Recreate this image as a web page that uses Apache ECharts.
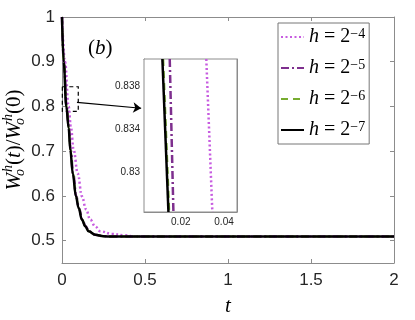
<!DOCTYPE html>
<html>
<head>
<meta charset="utf-8">
<script src="https://cdn.jsdelivr.net/npm/echarts@6/dist/echarts.min.js"></script>
<style>
html, body { margin: 0; padding: 0; background: #fff; }
#main { width: 415px; height: 320px; }
</style>
</head>
<body>
<div id="main"></div>
<script>
// series names (h = 2^-4 ... 2^-7)
var names = ['h = 2^−4', 'h = 2^−5', 'h = 2^−6', 'h = 2^−7'];

// main plot
var t4 = [0, 0.018, 0.04, 0.054, 0.07, 0.095, 0.12, 0.145, 0.17, 0.2, 0.23, 0.3, 0.37, 0.45, 1, 2];
var w4 = [1, 0.9, 0.8, 0.752, 0.703, 0.65, 0.599, 0.57, 0.547, 0.532, 0.521, 0.515, 0.512, 0.509, 0.509, 0.509];

var t5 = [0, 0.011, 0.028, 0.042, 0.052, 0.067, 0.086, 0.102, 0.122, 0.142, 0.162, 0.2, 0.25, 0.3, 0.5, 1, 2];
var w5 = [1, 0.9, 0.8, 0.752, 0.703, 0.65, 0.599, 0.573, 0.547, 0.532, 0.521, 0.513, 0.510, 0.509, 0.509, 0.509, 0.509];

var t6 = [0, 0.0105, 0.027, 0.041, 0.051, 0.066, 0.085, 0.101, 0.121, 0.141, 0.161, 0.2, 0.25, 0.3, 0.5, 1, 2];
var w6 = [1, 0.9, 0.8, 0.752, 0.703, 0.65, 0.599, 0.573, 0.547, 0.532, 0.521, 0.513, 0.510, 0.509, 0.509, 0.509, 0.509];

var t7 = [0, 0.01, 0.026, 0.04, 0.05, 0.065, 0.084, 0.1, 0.12, 0.14, 0.16, 0.2, 0.25, 0.3, 0.5, 1, 2];
var w7 = [1, 0.9, 0.8, 0.752, 0.703, 0.65, 0.599, 0.573, 0.547, 0.532, 0.521, 0.513, 0.510, 0.509, 0.509, 0.509, 0.509];

// inset (zoom near W = 0.834)
var insetW = [0.8405, 0.8263];
var insetT4 = [0.0318, 0.0346];
var insetT5 = [0.0149, 0.0166];
var insetT6 = [0.0119, 0.0147];
var insetT7 = [0.0115, 0.0143];

// tick values
var xTicks = [0, 0.5, 1, 1.5, 2];
var yTicks = [0.5, 0.6, 0.7, 0.8, 0.9, 1];
var insetXTicks = [0.02, 0.04];
var insetYTicks = [0.83, 0.834, 0.838];

// zoom box and arrow (data coords of main plot)
var boxCorners = [[0.002, 0.844], [0.098, 0.789]];
var arrowEnds = [[0.09, 0.809], [0.477, 0.796]];

var colors = ['#c75ce0', '#7e2f8e', '#77ac30', '#000000'];
var lineTypes = [[2, 2.5], [8, 3, 2, 3], [7, 5], 'solid'];
var lineWidths = [2.5, 2.5, 2, 2.5];

function pairs(t, w) {
    return t.map(function (v, i) { return [v, w[i]]; });
}

var axisGray = '#8c8c8c';
var serif = 'Liberation Serif';
var sans = 'Liberation Sans';

function frameAxis(grid, pos, min, max, ticks) {
    return {
        type: 'value', gridIndex: grid, position: pos, min: min, max: max,
        axisLine: { show: true, onZero: false, lineStyle: { color: axisGray, width: 1 } },
        axisTick: { inside: true, length: 4, customValues: ticks, lineStyle: { color: axisGray } },
        axisLabel: { show: false },
        splitLine: { show: false }
    };
}

var mainData = [pairs(t4, w4), pairs(t5, w5), pairs(t6, w6), pairs(t7, w7)];
var insetData = [pairs(insetT4, insetW), pairs(insetT5, insetW), pairs(insetT6, insetW), pairs(insetT7, insetW)];

var series = [];
for (var k = 0; k < 4; k++) {
    series.push({
        name: names[k], type: 'line', xAxisIndex: 0, yAxisIndex: 0,
        data: mainData[k], showSymbol: false, symbol: 'none',
        smooth: 0.4, smoothMonotone: 'x',
        lineStyle: { color: colors[k], width: lineWidths[k], type: lineTypes[k] },
        itemStyle: { color: colors[k] },
        z: 3 + k
    });
}
for (var k = 0; k < 4; k++) {
    series.push({
        name: names[k], type: 'line', xAxisIndex: 2, yAxisIndex: 2,
        data: insetData[k], showSymbol: false, symbol: 'none', clip: true,
        lineStyle: { color: colors[k], width: lineWidths[k], type: lineTypes[k] },
        itemStyle: { color: colors[k] },
        z: 13 + k
    });
}
// zoom box + arrow hung on the black main series
series[3].markArea = {
    silent: true,
    itemStyle: { color: 'rgba(0,0,0,0)', borderColor: '#000', borderWidth: 1.2, borderType: [4, 3] },
    data: [[{ coord: boxCorners[0] }, { coord: boxCorners[1] }]]
};
series[3].markLine = {
    silent: true, symbol: ['none', 'arrow'], symbolSize: 8,
    label: { show: false },
    lineStyle: { color: '#000', width: 1.2, type: 'solid' },
    data: [[{ coord: arrowEnds[0] }, { coord: arrowEnds[1] }]]
};

var yName = '{w|W}{sub|o}{sup|h}{n|(}{i|t}{n|)/}{w|W}{sub|o}{sup|h}{n|(0)}';

var option = {
    animation: false,
    backgroundColor: '#fff',
    grid: [
        { left: 62, right: 21, top: 17, bottom: 57, outerBoundsMode: 'none', containLabel: false },
        { left: 144, top: 59, width: 93, height: 153, show: true, backgroundColor: '#fff',
          borderColor: axisGray, borderWidth: 1, z: 10, outerBoundsMode: 'none', containLabel: false }
    ],
    xAxis: [
        {
            type: 'value', gridIndex: 0, position: 'bottom', min: 0, max: 2,
            axisLine: { show: true, onZero: false, lineStyle: { color: axisGray } },
            axisTick: { inside: true, length: 4, customValues: xTicks, lineStyle: { color: axisGray } },
            axisLabel: { customValues: xTicks, fontSize: 17, color: '#262626', fontFamily: sans, margin: 9 },
            splitLine: { show: false },
            name: '{i|t}', nameLocation: 'middle', nameGap: 33, nameMoveOverlap: false,
            nameTextStyle: { rich: { i: { fontFamily: serif, fontStyle: 'italic', fontSize: 21, color: '#000' } } }
        },
        frameAxis(0, 'top', 0, 2, xTicks),
        {
            type: 'value', gridIndex: 1, position: 'bottom', min: 0.003, max: 0.046,
            axisLine: { show: true, onZero: false, lineStyle: { color: axisGray } },
            axisTick: { inside: true, length: 3, customValues: insetXTicks, lineStyle: { color: axisGray } },
            axisLabel: { customValues: insetXTicks, fontSize: 10, color: '#262626', fontFamily: sans, margin: 5 },
            splitLine: { show: false }
        },
        frameAxis(1, 'top', 0.003, 0.046, insetXTicks)
    ],
    yAxis: [
        {
            type: 'value', gridIndex: 0, position: 'left', min: 0.45, max: 1,
            axisLine: { show: true, onZero: false, lineStyle: { color: axisGray } },
            axisTick: { inside: true, length: 4, customValues: yTicks, lineStyle: { color: axisGray } },
            axisLabel: { customValues: yTicks, fontSize: 17, color: '#262626', fontFamily: sans, margin: 7,
                formatter: function (v) { return String(+v.toFixed(2)); } },
            splitLine: { show: false },
            name: yName, nameLocation: 'middle', nameGap: 35, nameRotate: 90, nameMoveOverlap: false,
            nameTextStyle: {
                rich: {
                    w: { fontFamily: serif, fontStyle: 'italic', fontSize: 21, color: '#000', lineHeight: 26 },
                    i: { fontFamily: serif, fontStyle: 'italic', fontSize: 21, color: '#000', lineHeight: 26 },
                    n: { fontFamily: serif, fontSize: 21, color: '#000', lineHeight: 26 },
                    sub: { fontFamily: serif, fontStyle: 'italic', fontSize: 14, color: '#000', lineHeight: 14, verticalAlign: 'bottom', width: 1 },
                    sup: { fontFamily: serif, fontStyle: 'italic', fontSize: 14, color: '#000', lineHeight: 14, verticalAlign: 'top' }
                }
            }
        },
        frameAxis(0, 'right', 0.45, 1, yTicks),
        {
            type: 'value', gridIndex: 1, position: 'left', min: 0.8263, max: 0.8405,
            axisLine: { show: true, onZero: false, lineStyle: { color: axisGray } },
            axisTick: { inside: true, length: 3, customValues: insetYTicks, lineStyle: { color: axisGray } },
            axisLabel: { customValues: insetYTicks, fontSize: 10, color: '#262626', fontFamily: sans, margin: 4,
                formatter: function (v) { return String(+v.toFixed(3)); } },
            splitLine: { show: false }
        },
        frameAxis(1, 'right', 0.8263, 0.8405, insetYTicks)
    ],
    legend: {
        data: names, orient: 'vertical', left: 278, top: 23,
        itemWidth: 23, itemHeight: 14, itemGap: 11,
        padding: [4, 4, 4, 2],
        borderColor: '#777', borderWidth: 1, backgroundColor: '#fff',
        itemStyle: { opacity: 0 },
        formatter: function (name) {
            return '{i|h}{n| = 2}{s|' + name.split('^')[1] + '}';
        },
        textStyle: {
            rich: {
                i: { fontFamily: serif, fontStyle: 'italic', fontSize: 20, color: '#000', lineHeight: 19 },
                n: { fontFamily: serif, fontSize: 20, color: '#000', lineHeight: 19 },
                s: { fontFamily: serif, fontSize: 14, color: '#000', lineHeight: 12, verticalAlign: 'top' }
            }
        }
    },
    graphic: [{
        type: 'text', left: 88, top: 38, z: 20,
        style: {
            text: '{n|(}{i|b}{n|)}',
            rich: {
                n: { fontFamily: serif, fontSize: 21, fill: '#000' },
                i: { fontFamily: serif, fontStyle: 'italic', fontSize: 21, fill: '#000' }
            }
        }
    }],
    series: series
};

var chart = echarts.init(document.getElementById('main'));
chart.setOption(option);
</script>
</body>
</html>
